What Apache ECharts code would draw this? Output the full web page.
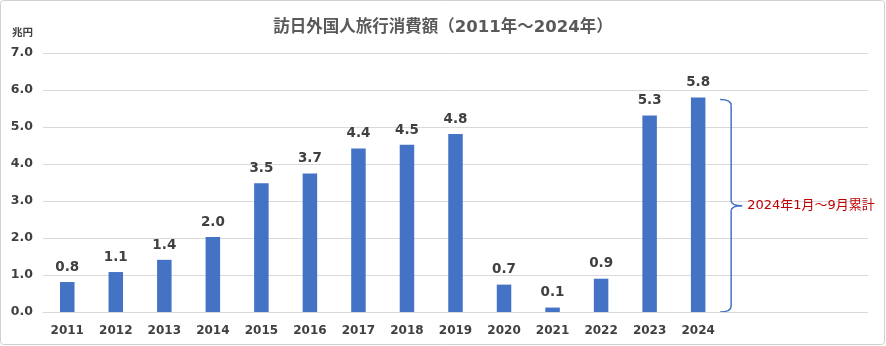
<!DOCTYPE html>
<html><head><meta charset="utf-8">
<script src="https://cdn.jsdelivr.net/npm/echarts@6/dist/echarts.min.js"></script>
<style>html,body{margin:0;padding:0;background:#fff}#c{width:886px;height:346px}</style>
</head><body><div id="c"></div>
<script>
const years = ['2011','2012','2013','2014','2015','2016','2017','2018','2019','2020','2021','2022','2023','2024'];
const spending = [0.81, 1.08, 1.41, 2.03, 3.48, 3.74, 4.42, 4.52, 4.81, 0.74, 0.12, 0.90, 5.31, 5.80];
const emptySlots = ['', '', ''];
const yTicks = [0, 1, 2, 3, 4, 5, 6, 7];
const titleText = '訪日外国人旅行消費額（2011年～2024年）';
const unitText = '兆円';
const noteText = '2024年1月～9月累計';

const FONT = "'DejaVu Sans', 'Noto Sans CJK JP', sans-serif";
const categories = years.concat(emptySlots);
const chart = echarts.init(document.getElementById('c'), null, {renderer: 'canvas'});
chart.setOption({
  animation: false,
  backgroundColor: '#fff',
  title: {text: titleText, left: 'center', top: 14,
    textStyle: {fontFamily: FONT, fontSize: 16.5, fontWeight: 'bold', color: '#595959'}},
  grid: {left: 43, right: 18, top: 53, bottom: 34},
  xAxis: {type: 'category', data: categories,
    axisTick: {show: false},
    axisLine: {lineStyle: {color: '#D9D9D9'}},
    axisLabel: {fontFamily: FONT, fontSize: 12, fontWeight: 'bold', color: '#404040', margin: 13, interval: 0}},
  yAxis: {type: 'value', min: yTicks[0], max: yTicks[yTicks.length-1], interval: 1,
    axisLine: {show: false}, axisTick: {show: false},
    splitLine: {lineStyle: {color: '#D9D9D9'}},
    axisLabel: {fontFamily: FONT, fontSize: 12.5, fontWeight: 'bold', color: '#404040', margin: 10,
      formatter: v => v.toFixed(1)}},
  series: [{type: 'bar', data: spending, barWidth: 14.5,
    itemStyle: {color: '#4472C4'},
    label: {show: true, position: 'top', distance: 8, fontFamily: FONT, fontSize: 13.5, fontWeight: 'bold', color: '#404040',
      formatter: p => p.value.toFixed(1)}}]
});

const last = years[years.length - 1];
const xBar = chart.convertToPixel({xAxisIndex: 0}, last);
const yT = chart.convertToPixel({yAxisIndex: 0}, spending[spending.length - 1]) + 2;
const yB = chart.convertToPixel({yAxisIndex: 0}, 0);
const yM = (yT + yB) / 2;
const xa = xBar + 22, xb = xBar + 33, xc = xBar + 44;
const braceStyle = {stroke: '#4472C4', lineWidth: 1.5, fill: null};
chart.setOption({graphic: [
  {type: 'rect', shape: {x: 0.5, y: 0.5, width: 884, height: 344, r: 3}, style: {fill: null, stroke: '#D0D0D0', lineWidth: 1}, silent: true},
  {type: 'text', x: 12, y: 28, style: {text: unitText, fontFamily: FONT, fontSize: 10.5, fontWeight: 'bold', fill: '#404040'}},
  {type: 'bezierCurve', shape: {x1: xa, y1: yT, cpx1: xb, cpy1: yT, x2: xb, y2: yT + 6}, style: braceStyle},
  {type: 'line', shape: {x1: xb, y1: yT + 6, x2: xb, y2: yM - 5}, style: braceStyle},
  {type: 'bezierCurve', shape: {x1: xb, y1: yM - 5, cpx1: xb, cpy1: yM, x2: xc, y2: yM}, style: braceStyle},
  {type: 'bezierCurve', shape: {x1: xc, y1: yM, cpx1: xb, cpy1: yM, x2: xb, y2: yM + 5}, style: braceStyle},
  {type: 'line', shape: {x1: xb, y1: yM + 5, x2: xb, y2: yB - 6}, style: braceStyle},
  {type: 'bezierCurve', shape: {x1: xb, y1: yB - 6, cpx1: xb, cpy1: yB, x2: xa, y2: yB}, style: braceStyle},
  {type: 'text', x: xc + 5, y: yM, style: {text: noteText, fontFamily: FONT, fontSize: 13, fill: '#C00000', verticalAlign: 'middle'}}
]});
</script></body></html>
